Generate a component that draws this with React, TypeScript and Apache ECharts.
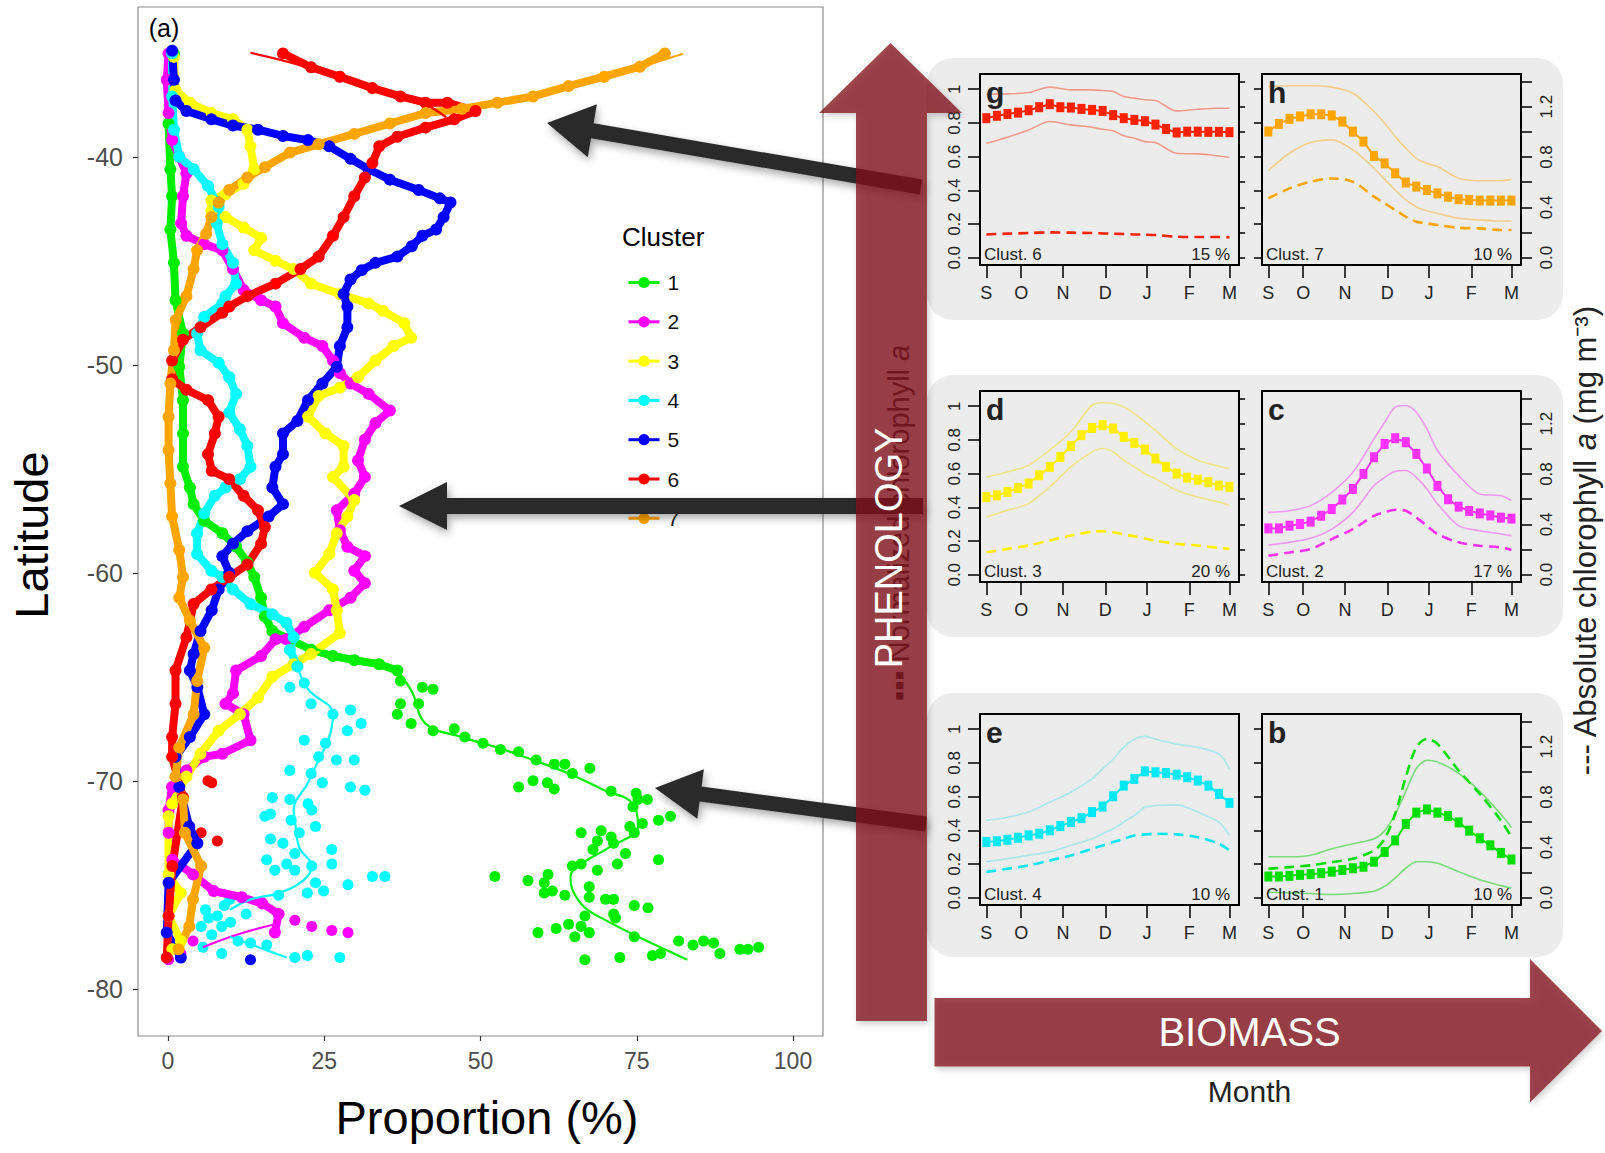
import React, { useEffect, useRef } from "react";
import * as echarts from "echarts";

const FONT = "'Liberation Sans', Arial, Helvetica, sans-serif";
const W = 1605;
const H = 1153;

// ---------------- Panel (a): proportion of each cluster vs latitude ----------------
const clusterNames = ["1", "2", "3", "4", "5", "6", "7"];
const clusterColors = ["#00ee00", "#ff00ff", "#ffff00", "#00ffff", "#0000ff", "#ff0000", "#ffa500"];
const propTicks = [0, 25, 50, 75, 100];
const latTicks = [-80, -70, -60, -50, -40];

// [proportion %, latitude]
const c1Path = [[0.95,-35.03],[0.09,-38.4],[0.38,-40.6],[0.66,-41.9],[0.38,-43.5],[0.95,-45.1],[1.2,-46.9],[2.4,-48.5],[1.8,-50.1],[2.4,-51.7],[2.4,-53.3],[2.4,-54.9],[3.5,-55.9],[4.1,-56.7],[5.8,-57.5],[8.7,-58.1],[10.9,-58.75],[12.7,-59.5],[13.8,-60.2],[14.9,-61.2],[15.5,-62.1],[16.7,-62.8],[19.5,-63.2],[22.9,-63.7],[26.4,-64.0],[29.8,-64.2],[33.8,-64.4],[36.7,-64.7]];
const c1Scatter = [[37.2,-65.2],[40.7,-65.5],[42.4,-65.6],[40.1,-66.3],[37.2,-66.3],[36.7,-66.8],[38.9,-67.25],[42.4,-67.6],[45.8,-67.5],[47.5,-67.9],[50.4,-68.2],[53.2,-68.5],[56.1,-68.6],[58.9,-69.0],[61.8,-69.2],[63.5,-69.2],[64.7,-69.65],[67.5,-69.4],[56.1,-70.3],[58.4,-70.0],[60.7,-70.1],[61.8,-70.4],[70.9,-70.5],[74.9,-70.6],[76.7,-70.9],[74.4,-71.25],[75.2,-70.9],[78.5,-71.9],[80.4,-71.7],[75.9,-72.05],[73.9,-72.2],[74.6,-72.5],[66.1,-72.5],[69.3,-72.4],[70.9,-72.7],[71.3,-73.0],[73.2,-73.5],[78.5,-73.8],[68.7,-72.9],[68.0,-73.3],[71.9,-74.0],[64.7,-74.1],[66.1,-74.0],[68.7,-74.3],[60.8,-74.5],[52.3,-74.6],[57.6,-74.8],[60.2,-74.9],[61.5,-75.3],[60.2,-75.4],[63.5,-75.5],[67.4,-75.1],[67.4,-75.6],[70.0,-75.7],[71.3,-75.7],[74.6,-76.0],[76.8,-76.1],[71.3,-76.4],[66.7,-76.5],[71.6,-76.6],[66.1,-77.0],[64.1,-76.9],[62.1,-77.1],[59.2,-77.3],[67.4,-77.3],[65.1,-77.5],[74.6,-77.5],[81.7,-77.7],[84.0,-77.9],[85.7,-77.7],[87.3,-77.8],[88.3,-78.3],[91.5,-78.1],[92.8,-78.1],[94.5,-78.0],[66.7,-78.6],[72.3,-78.5],[77.5,-78.4],[78.8,-78.3]];
const c1Smooth = [[22.9,-63.6],[29.8,-64.2],[35.5,-64.5],[38.9,-65.65],[41.2,-67.25],[47.0,-67.9],[52.7,-68.4],[58.4,-69.0],[64.1,-69.65],[69.8,-70.45],[74.4,-71.1],[75.2,-72.2],[70.6,-73.2],[66.1,-74.0],[64.4,-74.6],[64.8,-75.3],[66.7,-76.1],[70.0,-76.7],[75.2,-77.5],[83.1,-78.6]];

const c2Path = [[0.09,-35.03],[-0.2,-36.3],[0.09,-37.9],[0.66,-39.2],[1.8,-40.0],[2.95,-40.8],[2.4,-41.9],[2.1,-43.2],[2.95,-43.8],[5.8,-44.2],[8.7,-44.5],[10.4,-45.4],[12.1,-46.4],[14.9,-46.9],[17.2,-47.2],[18.4,-48.0],[21.8,-48.7],[24.7,-49.1],[26.4,-49.8],[27.5,-50.4],[29.2,-50.9],[32.1,-51.4],[35.5,-52.2],[33.2,-52.8],[31.5,-53.6],[30.4,-54.6],[31.5,-55.4],[29.8,-56.2],[27.0,-57.0],[27.5,-57.95],[28.7,-58.75],[31.5,-59.2],[29.8,-59.9],[31.5,-60.5],[29.2,-61.2],[25.8,-61.8],[21.8,-62.6],[18.95,-63.2],[17.2,-63.2],[14.9,-64.0],[10.9,-64.7],[10.4,-65.8],[9.2,-66.3],[12.1,-66.8],[13.2,-68.05],[8.7,-68.7],[5.8,-68.85],[2.95,-69.5],[0.66,-70.3],[0.09,-71.4],[0.09,-72.5],[0.7,-73.8],[4.0,-74.5],[7.3,-75.3],[11.8,-75.6],[15.1,-75.9],[17.7,-76.4],[17.1,-77.3]];
const c2Scatter = [[20.3,-76.7],[23.0,-77.0],[26.2,-77.2],[28.8,-77.3],[4.0,-77.7],[2.05,-78.3],[0.09,-78.6]];
const c2Smooth = [[5.6,-78.0],[11.0,-77.4],[17.1,-76.9]];

const c3Path = [[0.95,-35.2],[1.2,-36.8],[3.5,-37.4],[6.95,-37.9],[10.4,-38.2],[12.7,-38.7],[13.2,-39.5],[13.8,-40.6],[12.1,-41.3],[9.2,-41.8],[6.95,-42.1],[6.95,-42.6],[9.2,-42.9],[12.1,-43.4],[14.9,-43.9],[13.8,-44.5],[17.2,-45.0],[20.1,-45.4],[22.9,-46.1],[27.5,-46.6],[32.1,-47.05],[34.4,-47.4],[37.8,-48.0],[38.9,-48.7],[36.1,-49.1],[33.2,-49.8],[30.4,-50.6],[27.5,-51.1],[24.1,-51.5],[22.4,-52.5],[25.2,-53.3],[28.1,-53.9],[28.1,-54.9],[26.4,-55.4],[29.8,-56.5],[28.7,-57.3],[27.0,-58.1],[25.8,-59.1],[23.5,-60.0],[26.4,-60.8],[27.0,-61.8],[27.5,-62.9],[22.9,-63.9],[20.1,-64.4],[16.7,-65.0],[14.4,-66.0],[11.5,-66.8],[8.1,-67.6],[5.2,-68.7],[2.95,-69.8],[0.66,-71.1],[0.09,-71.7],[0.09,-74.5],[2.05,-75.4],[0.09,-76.5],[2.05,-77.7],[0.7,-78.1]];

const c4Path = [[0.66,-35.03],[0.66,-37.1],[0.95,-38.7],[1.8,-40.0],[4.1,-40.6],[6.4,-41.4],[8.1,-42.4],[7.8,-43.2],[8.7,-44.2],[10.4,-45.1],[10.9,-46.1],[9.2,-46.7],[8.7,-47.05],[5.8,-47.7],[4.66,-48.5],[5.2,-49.3],[8.1,-49.9],[9.8,-50.6],[10.9,-51.4],[9.8,-52.3],[11.5,-53.1],[12.7,-53.9],[13.2,-54.9],[11.5,-55.5],[9.2,-55.9],[7.5,-56.3],[5.8,-57.15],[4.66,-58.1],[4.66,-59.1],[6.95,-59.9],[8.7,-60.2],[10.4,-60.8],[13.2,-61.5],[16.7,-62.0],[18.95,-62.4],[20.1,-63.1],[19.5,-63.7],[20.7,-64.5]];
const c4Scatter = [[21.8,-65.3],[19.5,-65.5],[22.9,-66.3],[26.4,-66.8],[29.2,-66.6],[28.7,-67.6],[30.9,-67.25],[21.8,-68.05],[25.2,-68.2],[24.1,-68.85],[26.95,-69.0],[29.8,-69.0],[19.5,-69.5],[22.9,-69.65],[24.7,-70.1],[16.7,-70.8],[19.5,-70.9],[22.4,-71.1],[15.5,-71.7],[29.2,-70.3],[31.5,-70.45],[16.4,-71.6],[19.7,-71.9],[23.0,-71.4],[23.6,-72.2],[16.4,-72.8],[18.4,-73.0],[21.0,-72.5],[20.3,-73.5],[15.8,-73.8],[19.0,-74.0],[23.0,-74.1],[26.2,-73.3],[26.2,-74.0],[17.1,-74.3],[20.3,-74.3],[23.6,-74.9],[24.9,-75.3],[28.8,-75.0],[32.7,-74.6],[34.7,-74.6],[22.3,-75.4],[17.7,-75.5],[9.9,-75.7],[6.0,-76.2],[7.9,-76.5],[5.3,-77.0],[8.6,-77.0],[11.2,-77.7],[13.2,-77.8],[15.8,-77.9],[5.6,-78.0],[8.6,-78.3],[20.3,-78.5],[22.3,-78.4],[27.5,-78.5],[6.5,-76.6],[9.0,-76.0],[7.0,-77.4],[10.0,-76.8],[12.5,-76.4]];
const c4Smooth = [[20.7,-64.5],[22.4,-65.6],[26.4,-66.8],[25.8,-67.9],[24.1,-69.0],[22.4,-70.1],[20.1,-71.4],[20.3,-71.9],[21.0,-73.2],[23.0,-74.1],[21.6,-74.8],[17.7,-75.4],[13.2,-75.7],[9.9,-76.2]];
const c4Smooth2 = [[9.9,-77.5],[19.0,-78.5]];

const c5Path = [[0.66,-34.9],[0.95,-36.3],[1.2,-37.3],[2.95,-37.8],[6.95,-38.2],[10.4,-38.5],[14.4,-38.7],[18.4,-39.0],[22.4,-39.2],[25.8,-39.5],[29.2,-40.1],[32.1,-40.6],[35.5,-41.1],[40.1,-41.6],[43.5,-42.0],[45.2,-42.2],[44.1,-42.9],[42.9,-43.5],[40.7,-43.8],[39.0,-44.3],[36.7,-44.8],[33.2,-45.1],[31.0,-45.45],[29.2,-45.9],[28.1,-46.6],[28.7,-47.2],[28.7,-48.2],[27.5,-49.1],[27.0,-50.1],[24.7,-50.9],[22.4,-51.7],[20.7,-52.7],[18.4,-53.3],[18.4,-54.3],[17.2,-54.9],[16.7,-55.9],[18.4,-56.7],[16.1,-57.3],[12.7,-58.0],[10.4,-58.6],[8.7,-59.2],[9.8,-60.0],[8.1,-60.8],[7.0,-61.8],[5.2,-62.8],[4.1,-63.9],[3.5,-64.7],[4.7,-65.5],[5.8,-66.8],[3.5,-67.9],[1.2,-68.85],[1.8,-70.3],[3.4,-72.2],[4.7,-73.0],[0.1,-74.9],[-0.2,-77.3],[2.05,-78.5]];
const c5Scatter = [[13.2,-78.6]];

const c6Path = [[18.4,-35.03],[22.9,-35.7],[27.5,-36.15],[32.7,-36.7],[37.2,-37.1],[41.2,-37.4],[44.7,-37.4],[49.2,-37.8],[45.8,-38.2],[41.2,-38.6],[36.7,-39.04],[33.8,-39.5],[32.7,-40.3],[31.5,-41.0],[29.8,-41.9],[28.1,-42.9],[26.4,-43.8],[24.1,-44.8],[21.2,-45.4],[17.2,-46.1],[12.7,-46.7],[9.8,-47.2],[8.7,-47.5],[5.2,-48.2],[2.4,-48.8],[0.66,-49.8],[0.66,-50.7],[2.95,-51.2],[6.4,-51.7],[8.1,-52.5],[7.5,-53.3],[6.4,-54.3],[7.0,-55.1],[9.8,-55.5],[12.1,-56.3],[14.4,-57.0],[15.5,-57.8],[14.9,-58.6],[12.7,-59.6],[9.8,-60.2],[6.95,-60.8],[4.1,-61.5],[2.95,-63.1],[1.2,-64.7],[1.2,-66.3],[0.66,-67.9],[0.66,-68.85],[2.4,-70.8],[0.7,-74.1],[0.1,-76.5],[-0.2,-78.5]];
const c6Scatter = [[6.4,-70.0],[7.0,-70.1],[5.3,-72.5],[7.9,-72.9]];
const c6Smooth = [[13.2,-35.0],[20.0,-35.5],[30.0,-36.4],[40.0,-37.3],[44.5,-38.1]];

const c7Path = [[79.5,-35.03],[75.5,-35.67],[69.8,-36.15],[64.1,-36.6],[58.4,-37.1],[52.7,-37.4],[47.0,-37.7],[41.2,-37.9],[35.5,-38.4],[29.8,-38.9],[24.1,-39.4],[19.5,-39.8],[15.5,-40.5],[12.7,-41.0],[9.8,-41.6],[8.1,-42.2],[6.95,-42.9],[6.1,-43.7],[4.66,-44.5],[4.09,-45.4],[2.95,-46.7],[1.23,-47.85],[0.95,-49.3],[0.38,-50.9],[0.09,-52.5],[0.09,-54.1],[0.38,-55.7],[0.66,-57.3],[1.8,-58.9],[2.4,-60.2],[1.8,-61.2],[3.5,-62.3],[5.8,-63.6],[4.66,-65.2],[4.1,-66.8],[1.8,-68.4],[1.2,-69.8],[2.4,-70.9],[2.7,-72.5],[5.3,-74.1],[4.0,-75.7],[3.4,-77.0],[1.7,-78.1]];
const c7Smooth = [[82.4,-35.05],[75.0,-35.75]];

const clusterPaths = [c1Path, c2Path, c3Path, c4Path, c5Path, c6Path, c7Path];
const clusterScatters: [number, number[][]][] = [[0, c1Scatter], [1, c2Scatter], [3, c4Scatter], [4, c5Scatter], [5, c6Scatter]];
const clusterSmooths: [number, number[][]][] = [[0, c1Smooth], [1, c2Smooth], [3, c4Smooth], [3, c4Smooth2], [5, c6Smooth], [6, c7Smooth]];

// ---------------- Seasonal climatology panels ----------------
const weeks = [1,2,3,4,5,6,7,8,9,10,11,12,13,14,15,16,17,18,19,20,21,22,23,24];
const lineX = [1,3,5,7,9,11,12,13,14,15,16,17,19,21,23,24];
const monthPos = [1, 4.3, 8.25, 12.25, 16.2, 20.2, 24];
const monthLabels = ["S", "O", "N", "D", "J", "F", "M"];
const normTicks = [0, 0.2, 0.4, 0.6, 0.8, 1];
const absTicks = [0, 0.2, 0.4, 0.6, 0.8, 1.0, 1.2, 1.4];
const absLabels = [0, 0.4, 0.8, 1.2];

// Clust. 6 (g)
const g6Squares = [0.828,0.842,0.853,0.861,0.875,0.893,0.911,0.893,0.891,0.883,0.877,0.871,0.846,0.828,0.818,0.810,0.790,0.764,0.743,0.748,0.748,0.747,0.747,0.745];
const g6Upper = [0.970,0.972,0.980,1.012,0.996,0.996,0.992,0.986,0.956,0.947,0.937,0.933,0.871,0.881,0.887,0.887];
const g6Lower = [0.679,0.715,0.758,0.808,0.788,0.774,0.762,0.754,0.723,0.709,0.689,0.683,0.620,0.616,0.604,0.596];
const g6Abs = [0.185,0.191,0.196,0.201,0.199,0.196,0.193,0.191,0.188,0.185,0.183,0.180,0.167,0.164,0.164,0.162];
// Clust. 7 (h)
const h7Squares = [0.749,0.794,0.824,0.838,0.851,0.851,0.844,0.808,0.748,0.689,0.604,0.560,0.501,0.446,0.422,0.402,0.382,0.362,0.347,0.343,0.339,0.339,0.339,0.339];
const h7Upper = [1.016,1.020,1.020,1.012,0.976,0.867,0.798,0.719,0.650,0.590,0.560,0.541,0.471,0.457,0.457,0.465];
const h7Lower = [0.517,0.620,0.683,0.699,0.640,0.531,0.465,0.402,0.343,0.303,0.279,0.263,0.234,0.224,0.218,0.218];
const h7Abs = [0.472,0.551,0.604,0.630,0.604,0.485,0.432,0.379,0.326,0.286,0.273,0.260,0.238,0.233,0.220,0.220];
// Clust. 3 (d)
const d3Squares = [0.461,0.471,0.491,0.515,0.541,0.590,0.640,0.699,0.764,0.828,0.871,0.887,0.867,0.818,0.782,0.743,0.689,0.640,0.600,0.576,0.564,0.549,0.529,0.521];
const d3Upper = [0.580,0.610,0.650,0.739,0.848,1.006,1.020,1.016,0.996,0.956,0.907,0.857,0.748,0.679,0.644,0.630];
const d3Lower = [0.343,0.382,0.422,0.521,0.640,0.729,0.749,0.729,0.679,0.640,0.600,0.570,0.501,0.461,0.432,0.412];
const d3Abs = [0.179,0.205,0.232,0.271,0.311,0.342,0.345,0.337,0.320,0.305,0.288,0.271,0.245,0.232,0.213,0.205];
// Clust. 2 (c)
const c2Squares = [0.275,0.275,0.291,0.301,0.315,0.350,0.390,0.446,0.509,0.598,0.697,0.776,0.810,0.786,0.717,0.630,0.527,0.448,0.404,0.378,0.364,0.352,0.339,0.333];
const c2Upper = [0.370,0.380,0.410,0.489,0.608,0.806,0.905,0.994,1.004,0.964,0.865,0.737,0.588,0.479,0.469,0.440];
const c2Lower = [0.176,0.192,0.216,0.271,0.370,0.529,0.578,0.612,0.618,0.578,0.509,0.420,0.291,0.261,0.242,0.232];
const c2Abs = [0.151,0.177,0.204,0.283,0.362,0.468,0.495,0.516,0.508,0.455,0.389,0.323,0.257,0.230,0.217,0.196];
// Clust. 4 (e)
const e4Squares = [0.331,0.335,0.344,0.356,0.370,0.380,0.400,0.425,0.449,0.472,0.508,0.541,0.602,0.665,0.705,0.750,0.744,0.740,0.730,0.715,0.695,0.665,0.616,0.563];
const e4Upper = [0.459,0.478,0.508,0.567,0.626,0.705,0.764,0.823,0.892,0.941,0.957,0.941,0.911,0.892,0.852,0.764];
const e4Lower = [0.213,0.232,0.252,0.272,0.311,0.350,0.380,0.409,0.449,0.488,0.537,0.547,0.551,0.508,0.449,0.370];
const e4Abs = [0.204,0.230,0.257,0.296,0.336,0.389,0.415,0.442,0.468,0.495,0.503,0.508,0.503,0.481,0.429,0.376];
// Clust. 1 (b)
const b1Squares = [0.126,0.126,0.130,0.136,0.140,0.146,0.155,0.165,0.175,0.184,0.214,0.272,0.340,0.437,0.505,0.524,0.505,0.485,0.447,0.398,0.353,0.311,0.266,0.227];
const b1Upper = [0.243,0.243,0.252,0.291,0.320,0.350,0.398,0.495,0.631,0.767,0.816,0.806,0.738,0.631,0.495,0.417];
const b1Lower = [0.033,0.029,0.025,0.019,0.025,0.039,0.068,0.117,0.175,0.214,0.214,0.204,0.155,0.107,0.072,0.058];
const b1Abs = [0.230,0.243,0.257,0.283,0.310,0.376,0.468,0.667,0.958,1.196,1.262,1.222,1.011,0.825,0.614,0.481];

const panels = [
  { letter: "g", clust: "Clust. 6", pct: "15 %", color: "#ff2200", light: "#f29a8c", sq: g6Squares, up: g6Upper, lo: g6Lower, abs: g6Abs, row: 0, col: 0, leftTicks: true, rightTicks: true },
  { letter: "h", clust: "Clust. 7", pct: "10 %", color: "#ffa500", light: "#f6cc8c", sq: h7Squares, up: h7Upper, lo: h7Lower, abs: h7Abs, row: 0, col: 1, leftTicks: true, rightTicks: true },
  { letter: "d", clust: "Clust. 3", pct: "20 %", color: "#ffee00", light: "#efe38a", sq: d3Squares, up: d3Upper, lo: d3Lower, abs: d3Abs, row: 1, col: 0, leftTicks: true, rightTicks: true },
  { letter: "c", clust: "Clust. 2", pct: "17 %", color: "#ff33ff", light: "#f098f0", sq: c2Squares, up: c2Upper, lo: c2Lower, abs: c2Abs, row: 1, col: 1, leftTicks: false, rightTicks: true },
  { letter: "e", clust: "Clust. 4", pct: "10 %", color: "#00e8f4", light: "#a8e6ec", sq: e4Squares, up: e4Upper, lo: e4Lower, abs: e4Abs, row: 2, col: 0, leftTicks: true, rightTicks: false },
  { letter: "b", clust: "Clust. 1", pct: "10 %", color: "#00dd00", light: "#78dc78", sq: b1Squares, up: b1Upper, lo: b1Lower, abs: b1Abs, row: 2, col: 1, leftTicks: true, rightTicks: true },
];

const rowTop = [74, 391, 714];
const colLeft = [980, 1262];
const boxW = 259;
const boxH = 191;

function arrowPoints(x1: number, y1: number, x2: number, y2: number, shaft: number, headLen: number, headW: number) {
  const dx = x2 - x1, dy = y2 - y1;
  const L = Math.hypot(dx, dy);
  const ux = dx / L, uy = dy / L;
  const nx = -uy, ny = ux;
  const bx = x2 - ux * headLen, by = y2 - uy * headLen;
  const s = shaft / 2, h = headW / 2;
  return [
    [x1 + nx * s, y1 + ny * s], [bx + nx * s, by + ny * s], [bx + nx * h, by + ny * h],
    [x2, y2],
    [bx - nx * h, by - ny * h], [bx - nx * s, by - ny * s], [x1 - nx * s, y1 - ny * s],
  ];
}

function fmtMonth(v: number) {
  const i = monthPos.findIndex((m) => Math.abs(m - v) < 0.01);
  return i >= 0 ? monthLabels[i] : "";
}

function buildOption() {
  const grids: any[] = [
    { left: 138, top: 7, width: 685, height: 1029, show: true, borderColor: "#8a8a8a", borderWidth: 1.2, backgroundColor: "#ffffff" },
  ];
  const xAxes: any[] = [
    {
      type: "value", gridIndex: 0, min: -4.8, max: 104.8, position: "bottom",
      axisLine: { show: false, onZero: false }, splitLine: { show: false },
      axisTick: { show: true, length: 5, customValues: propTicks, lineStyle: { color: "#333", width: 1.2 } },
      axisLabel: { customValues: propTicks, fontSize: 23, color: "#4d4d4d", fontFamily: FONT, margin: 13 },
    },
  ];
  const yAxes: any[] = [
    {
      type: "value", gridIndex: 0, min: -82.27, max: -32.8, position: "left",
      axisLine: { show: false, onZero: false }, splitLine: { show: false },
      axisTick: { show: true, length: 5, customValues: latTicks, lineStyle: { color: "#333", width: 1.2 } },
      axisLabel: { customValues: latTicks, fontSize: 25, color: "#4d4d4d", fontFamily: FONT, margin: 15 },
    },
  ];
  const series: any[] = [];

  clusterPaths.forEach((path, i) => {
    series.push({
      name: clusterNames[i], type: "line", xAxisIndex: 0, yAxisIndex: 0, data: path,
      symbol: "circle", symbolSize: 12, showSymbol: true,
      lineStyle: { width: 8, color: clusterColors[i] }, itemStyle: { color: clusterColors[i] },
    });
  });
  clusterScatters.forEach(([ci, pts]) => {
    series.push({
      name: clusterNames[ci] + " pts", type: "scatter", xAxisIndex: 0, yAxisIndex: 0, data: pts,
      symbolSize: 11, itemStyle: { color: clusterColors[ci], opacity: 1 },
    });
  });
  clusterSmooths.forEach(([ci, pts], k) => {
    series.push({
      name: clusterNames[ci] + " fit" + k, type: "line", xAxisIndex: 0, yAxisIndex: 0, data: pts,
      symbol: "none", smooth: 0.4, lineStyle: { width: 2.2, color: clusterColors[ci] },
    });
  });

  const graphics: any[] = [];

  panels.forEach((p, k) => {
    const gi = k + 1;
    const left = colLeft[p.col];
    const top = rowTop[p.row];
    grids.push({ left, top, width: boxW, height: boxH, show: true, borderColor: "#000", borderWidth: 2, backgroundColor: "transparent" });
    xAxes.push({
      type: "value", gridIndex: gi, min: 0.4, max: 24.9, position: "bottom",
      axisLine: { show: false, onZero: false }, splitLine: { show: false },
      axisTick: { show: true, length: 13, customValues: monthPos, lineStyle: { color: "#000", width: 1.5 } },
      axisLabel: { customValues: monthPos, formatter: fmtMonth, fontSize: 18, color: "#222", fontFamily: FONT, margin: 19 },
    });
    yAxes.push({
      type: "value", gridIndex: gi, position: "left", min: -0.043, max: 1.09,
      axisLine: { show: false, onZero: false }, splitLine: { show: false },
      axisTick: { show: p.leftTicks, length: p.col === 0 ? 12 : 8, customValues: normTicks, lineStyle: { color: "#000", width: 1.5 } },
      axisLabel: {
        show: p.col === 0, customValues: normTicks, rotate: 90, fontSize: 17, color: "#222", fontFamily: FONT, margin: 17,
        formatter: (v: number) => (v === 0 ? "0.0" : v === 1 ? "1" : v.toFixed(1)),
      },
    });
    yAxes.push({
      type: "value", gridIndex: gi, position: "right", min: -0.058, max: 1.46,
      axisLine: { show: false, onZero: false }, splitLine: { show: false },
      axisTick: { show: p.rightTicks, length: p.col === 1 ? 11 : 6, customValues: absTicks, lineStyle: { color: "#000", width: 1.5 } },
      axisLabel: {
        show: p.col === 1, customValues: absLabels, rotate: 90, fontSize: 17, color: "#222", fontFamily: FONT, margin: 17,
        formatter: (v: number) => v.toFixed(1),
      },
    });
    const yl = 1 + 2 * k;
    const yr = 2 + 2 * k;
    series.push({
      name: p.clust + " q90", type: "line", xAxisIndex: gi, yAxisIndex: yl,
      data: lineX.map((x, j) => [x, p.up[j]]), symbol: "none", smooth: 0.3,
      lineStyle: { width: 1.6, color: p.light },
    });
    series.push({
      name: p.clust + " q10", type: "line", xAxisIndex: gi, yAxisIndex: yl,
      data: lineX.map((x, j) => [x, p.lo[j]]), symbol: "none", smooth: 0.3,
      lineStyle: { width: 1.6, color: p.light },
    });
    series.push({
      name: p.clust + " abs", type: "line", xAxisIndex: gi, yAxisIndex: yr,
      data: lineX.map((x, j) => [x, p.abs[j]]), symbol: "none", smooth: 0.3,
      lineStyle: { width: 2.6, color: p.color, type: [10, 6] },
    });
    series.push({
      name: p.clust + " norm", type: "line", xAxisIndex: gi, yAxisIndex: yl,
      data: weeks.map((x, j) => [x, p.sq[j]]), symbol: "rect", symbolSize: [8, 10], showSymbol: true,
      lineStyle: { width: 2, color: p.color }, itemStyle: { color: p.color },
    });

    graphics.push({
      type: "text", x: left + 6, y: top + 3, z: 20,
      style: { text: p.letter, fontSize: 30, fontWeight: "bold", fontFamily: FONT, fill: "#222", align: "left", verticalAlign: "top", textAlign: "left", textVerticalAlign: "top" },
    });
    graphics.push({
      type: "text", x: left + 4, y: top + boxH - 2, z: 20,
      style: { text: p.clust, fontSize: 17, fontFamily: FONT, fill: "#222", align: "left", verticalAlign: "bottom", textAlign: "left", textVerticalAlign: "bottom" },
    });
    graphics.push({
      type: "text", x: left + 250, y: top + boxH - 2, z: 20,
      style: { text: p.pct, fontSize: 17, fontFamily: FONT, fill: "#222", align: "right", verticalAlign: "bottom", textAlign: "right", textVerticalAlign: "bottom" },
    });
  });

  // grey rounded backgrounds behind the small panels
  [[58, 262], [375, 262], [693, 264]].forEach(([y, h]) => {
    graphics.push({ type: "rect", z: -10, shape: { x: 927, y, width: 636, height: h, r: 26 }, style: { fill: "#ececec" } });
  });

  const txt = (text: string, x: number, y: number, size: number, extra: any = {}) => ({
    type: "text", x, y, z: extra.z ?? 10, rotation: extra.rotation ?? 0,
    style: {
      text, fontSize: size, fontFamily: extra.fontFamily ?? FONT, fill: extra.fill ?? "#000", fontWeight: extra.fontWeight ?? "normal",
      align: extra.align ?? "center", verticalAlign: "middle", textAlign: extra.align ?? "center", textVerticalAlign: "middle",
      rich: extra.rich,
    },
  });

  graphics.push(txt("(a)", 164, 28, 25));
  graphics.push(txt("Latitude", 31, 535, 47, { rotation: Math.PI / 2 }));
  graphics.push(txt("Proportion (%)", 487, 1117, 47));
  graphics.push(txt("Cluster", 622, 237, 26, { align: "left" }));

  // axis titles of small panels
  graphics.push(txt("▪▪▪ Normalized chlorophyll {i|a}", 899, 523, 29, {
    rotation: Math.PI / 2, fill: "#333", z: 40,
    rich: { i: { fontStyle: "italic", fontSize: 29, fontFamily: FONT, fill: "#333" } },
  }));
  graphics.push(txt("--- Absolute chlorophyll {i|a} (mg m⁻³)", 1585, 541, 31, {
    rotation: Math.PI / 2, fill: "#222",
    rich: { i: { fontStyle: "italic", fontSize: 31, fontFamily: FONT, fill: "#222" } },
  }));

  // black pointer arrows
  const arrowStyle = { fill: "#2a2a2a", shadowBlur: 8, shadowColor: "rgba(0,0,0,0.35)", shadowOffsetX: 2, shadowOffsetY: 4 };
  graphics.push({ type: "polygon", z: 50, shape: { points: arrowPoints(921, 187, 547, 123, 15, 46, 54) }, style: arrowStyle });
  graphics.push({ type: "polygon", z: 50, shape: { points: arrowPoints(923, 506, 399, 506, 16, 48, 48) }, style: arrowStyle });
  graphics.push({ type: "polygon", z: 50, shape: { points: arrowPoints(926, 824, 655, 788, 15, 46, 50) }, style: arrowStyle });

  // big translucent red arrows
  const redStyle = { fill: "rgba(130,21,26,0.76)", shadowBlur: 6, shadowColor: "rgba(0,0,0,0.25)", shadowOffsetX: 2, shadowOffsetY: 3 };
  graphics.push({
    type: "polygon", z: 60,
    shape: { points: [[856, 1021], [856, 113], [819, 113], [890.5, 43], [962, 113], [927, 113], [927, 1021]] },
    style: redStyle,
  });
  graphics.push({
    type: "polygon", z: 60,
    shape: { points: [[934.5, 998], [1530, 998], [1530, 959], [1602, 1031], [1530, 1102.6], [1530, 1066.6], [934.5, 1066.6]] },
    style: redStyle,
  });
  graphics.push(txt("PHENOLOGY", 889, 548, 38, { rotation: Math.PI / 2, fill: "#ffffff", z: 70 }));
  graphics.push(txt("BIOMASS", 1249.5, 1032, 40, { fill: "#ffffff", z: 70 }));
  graphics.push(txt("Month", 1249.5, 1091, 30, { fill: "#222", z: 70 }));

  return {
    animation: false,
    backgroundColor: "#ffffff",
    grid: grids,
    xAxis: xAxes,
    yAxis: yAxes,
    legend: {
      data: clusterNames, orient: "vertical", left: 622, top: 267,
      itemWidth: 31, itemHeight: 14, itemGap: 18.3, selectedMode: false,
      lineStyle: { width: 3 },
      textStyle: { fontSize: 21, fontFamily: FONT, color: "#111", padding: [0, 0, 0, 3] },
    },
    series,
    graphic: { elements: graphics },
  };
}

export default function App() {
  const ref = useRef<HTMLDivElement>(null);
  useEffect(() => {
    if (!ref.current) return;
    const chart = echarts.init(ref.current, undefined, { renderer: "svg" });
    chart.setOption(buildOption() as any);
    return () => chart.dispose();
  }, []);
  return (
    <div
      ref={ref}
      style={{ position: "absolute", left: 0, top: 0, width: W, height: H, background: "#fff" }}
    />
  );
}
